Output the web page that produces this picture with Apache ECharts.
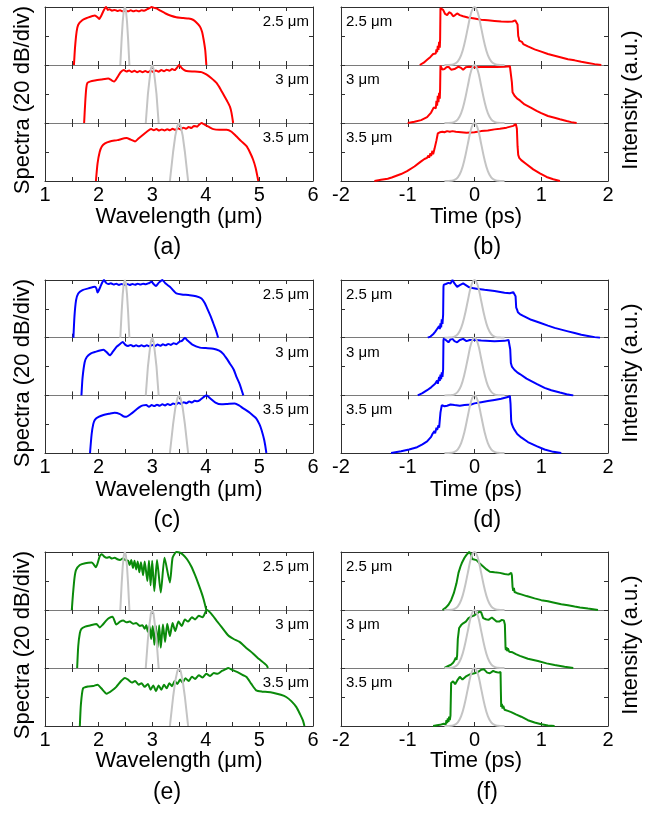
<!DOCTYPE html>
<html><head><meta charset="utf-8">
<script src="https://cdn.jsdelivr.net/npm/echarts@6/dist/echarts.min.js"></script>
<style>html,body{margin:0;padding:0;background:#fff}#c{width:652px;height:817px}</style>
</head><body><div id="c"></div>
<script>
// ---------------- DATA ----------------
const pumpLabels = ['2.5 μm', '3 μm', '3.5 μm'];
const wavelengthTicks = [1, 2, 3, 4, 5, 6];
const timeTicks = [-2, -1, 0, 1, 2];

// pump spectra (gray), dB
const pumpSpec25 = [[2.405,-40],[2.43,-22],[2.45,-10],[2.47,-2.5],[2.49,0],[2.51,-2.5],[2.53,-10],[2.55,-22],[2.575,-40]];
const pumpSpec30 = [[2.88,-40],[2.92,-20],[2.95,-10],[2.975,-2.5],[3.0,0],[3.025,-2.5],[3.05,-10],[3.08,-20],[3.12,-40]];
const pumpSpec35 = [[3.33,-40],[3.39,-20],[3.43,-9],[3.47,-2],[3.5,0],[3.53,-2],[3.57,-9],[3.61,-20],[3.67,-40]];
// pump pulse (gray), intensity
const pumpPulse = [[-0.45,0],[-0.4,0.001],[-0.35,0.004],[-0.3,0.018],[-0.25,0.063],[-0.2,0.17],[-0.15,0.37],[-0.1,0.64],[-0.05,0.9],[0,1],[0.05,0.9],[0.1,0.64],[0.15,0.37],[0.2,0.17],[0.25,0.063],[0.3,0.018],[0.35,0.004],[0.4,0.001],[0.45,0]];

// (a) red spectra
const specA1 = [[1.54,-40],[1.56,-28],[1.59,-17],[1.62,-12.2],[1.7,-9],[1.78,-7.6],[1.93,-5.8],[1.98,-7],[2.01,-8.3],[2.05,-6],[2.1,-2],[2.14,0],[2.17,-2],[2.2,-1.5],[2.25,-2.5],[2.3,-2],[2.35,-2.8],[2.4,-2.2],[2.45,-3],[2.5,-2.5],[2.55,-3],[2.6,-2.3],[2.65,-3],[2.7,-2.4],[2.75,-3],[2.8,-2.2],[2.85,-2.6],[2.9,-1.6],[2.95,-0.8],[2.99,0],[3.04,-0.6],[3.08,-1],[3.15,-2.5],[3.25,-4.5],[3.35,-6],[3.45,-7],[3.58,-7.6],[3.68,-8],[3.76,-8.8],[3.82,-10.5],[3.89,-13.4],[3.93,-17],[3.96,-22.6],[3.99,-30],[4.01,-40]];
const specA2 = [[1.73,-40],[1.75,-26],[1.77,-16],[1.79,-12.4],[1.85,-11.3],[1.93,-10.7],[2.05,-10],[2.18,-9.3],[2.24,-10.5],[2.29,-11.4],[2.35,-8.5],[2.41,-5],[2.47,-3.5],[2.52,-4.5],[2.57,-3.8],[2.62,-4.8],[2.67,-4],[2.72,-5],[2.77,-4.2],[2.82,-5],[2.87,-4.2],[2.92,-5],[2.97,-4],[3.02,-4.8],[3.07,-3.8],[3.12,-4.6],[3.17,-3.5],[3.22,-4.3],[3.27,-3.2],[3.32,-4],[3.37,-2.8],[3.42,-3.5],[3.47,-1.5],[3.5,0],[3.55,-2],[3.6,-3.5],[3.64,-4.2],[3.75,-4.5],[3.85,-4.6],[3.92,-4.9],[4.01,-6.5],[4.1,-9],[4.2,-12.4],[4.28,-17],[4.35,-21.7],[4.4,-25],[4.45,-28.7],[4.48,-33],[4.51,-40]];
const specA3 = [[1.95,-40],[1.98,-28],[2.02,-20],[2.06,-16.2],[2.12,-14],[2.21,-12.7],[2.35,-11.8],[2.52,-10.4],[2.6,-11.5],[2.68,-12.7],[2.75,-10.5],[2.83,-8.1],[2.9,-6],[2.98,-4.2],[3.03,-5],[3.08,-4.2],[3.13,-5.2],[3.18,-4.4],[3.23,-5.2],[3.28,-4.3],[3.33,-5],[3.38,-4],[3.43,-4.8],[3.48,-3.7],[3.53,-4.4],[3.58,-3.2],[3.63,-4],[3.68,-2.8],[3.73,-3.4],[3.78,-2],[3.84,-2.5],[3.88,-1],[3.92,0],[3.97,-1],[4.05,-2.5],[4.14,-4.2],[4.25,-4.7],[4.39,-4.6],[4.48,-6],[4.57,-9.2],[4.66,-12.5],[4.76,-16],[4.82,-20],[4.88,-25],[4.93,-31],[4.98,-40]];

// (b) red pulses
const timeB1 = [[-0.82,0],[-0.76,0.04],[-0.71,0.09],[-0.66,0.14],[-0.62,0.19],[-0.6,0.22],[-0.58,0.2],[-0.57,0.27],[-0.56,0.22],[-0.55,0.33],[-0.54,0.26],[-0.53,0.4],[-0.52,0.3],[-0.515,0.45],[-0.51,0.98],[-0.5,1.0],[-0.47,0.95],[-0.44,0.88],[-0.41,0.86],[-0.38,0.91],[-0.35,0.89],[-0.32,0.84],[-0.29,0.86],[-0.26,0.89],[-0.22,0.86],[-0.17,0.84],[-0.1,0.82],[0,0.8],[0.1,0.78],[0.2,0.77],[0.3,0.76],[0.4,0.75],[0.5,0.745],[0.57,0.75],[0.61,0.77],[0.63,0.78],[0.645,0.7],[0.655,0.5],[0.665,0.46],[0.67,0.42],[0.68,0.44],[0.69,0.39],[0.71,0.4],[0.73,0.36],[0.8,0.32],[0.9,0.27],[1.0,0.23],[1.1,0.19],[1.2,0.16],[1.3,0.13],[1.4,0.1],[1.5,0.08],[1.6,0.055],[1.7,0.035],[1.8,0.015],[1.9,0]];
const timeB2 = [[-1.0,0],[-0.9,0.02],[-0.8,0.05],[-0.71,0.1],[-0.65,0.18],[-0.61,0.27],[-0.59,0.3],[-0.58,0.25],[-0.57,0.38],[-0.56,0.3],[-0.55,0.47],[-0.54,0.36],[-0.53,0.52],[-0.52,0.42],[-0.515,0.6],[-0.51,0.99],[-0.5,1.0],[-0.48,0.92],[-0.45,0.93],[-0.42,0.96],[-0.39,0.97],[-0.35,0.92],[-0.3,0.93],[-0.24,0.97],[-0.2,0.95],[-0.17,0.92],[-0.13,0.96],[-0.08,0.97],[0,0.96],[0.1,0.965],[0.2,0.965],[0.33,0.965],[0.45,0.97],[0.53,0.98],[0.55,0.96],[0.56,0.7],[0.57,0.53],[0.58,0.5],[0.6,0.47],[0.62,0.45],[0.64,0.42],[0.68,0.39],[0.75,0.32],[0.85,0.26],[0.93,0.21],[1.0,0.17],[1.1,0.12],[1.2,0.09],[1.28,0.065],[1.38,0.035],[1.45,0.015],[1.53,0]];
const timeB3 = [[-1.5,0],[-1.4,0.02],[-1.3,0.04],[-1.24,0.06],[-1.1,0.12],[-1.01,0.17],[-0.9,0.25],[-0.81,0.33],[-0.75,0.38],[-0.71,0.4],[-0.69,0.44],[-0.68,0.4],[-0.66,0.48],[-0.65,0.43],[-0.63,0.52],[-0.62,0.46],[-0.6,0.55],[-0.59,0.52],[-0.57,0.7],[-0.55,0.82],[-0.52,0.84],[-0.48,0.85],[-0.45,0.84],[-0.41,0.86],[-0.37,0.85],[-0.33,0.86],[-0.28,0.85],[-0.2,0.84],[-0.12,0.83],[0,0.84],[0.1,0.86],[0.2,0.87],[0.3,0.89],[0.38,0.9],[0.48,0.92],[0.58,0.95],[0.62,0.98],[0.635,0.9],[0.645,0.6],[0.655,0.45],[0.67,0.4],[0.7,0.36],[0.78,0.29],[0.88,0.2],[0.98,0.13],[1.08,0.07],[1.18,0.03],[1.28,0]];

// (c) blue spectra
const specC1 = [[1.53,-40],[1.55,-25],[1.58,-14],[1.62,-9.3],[1.7,-7],[1.81,-5.8],[1.93,-4.7],[1.96,-6],[1.98,-8.7],[2.03,-5],[2.07,-1.5],[2.1,0],[2.14,-2],[2.18,-2.8],[2.23,-2.3],[2.28,-3.2],[2.33,-2.6],[2.38,-3.4],[2.43,-2.7],[2.48,-3.4],[2.53,-2.7],[2.58,-3.4],[2.63,-2.8],[2.68,-3.3],[2.73,-2.6],[2.78,-3.2],[2.83,-2.6],[2.88,-3],[2.93,-2.3],[2.99,-1.2],[3.03,-3],[3.07,-4.2],[3.12,-2],[3.19,0],[3.25,-2.5],[3.33,-4.7],[3.4,-7.5],[3.45,-9.3],[3.55,-10],[3.7,-10.5],[3.82,-11.3],[3.92,-12.8],[3.98,-16],[4.04,-20.9],[4.1,-26],[4.14,-30],[4.19,-35],[4.23,-40]];
const specC2 = [[1.68,-40],[1.7,-28],[1.74,-17],[1.78,-13.4],[1.85,-11],[1.93,-9.9],[2.09,-8.3],[2.15,-10],[2.21,-12.2],[2.27,-9.5],[2.33,-6.5],[2.37,-5.3],[2.45,-3],[2.5,-5],[2.55,-5.8],[2.6,-5],[2.65,-6],[2.7,-5.2],[2.75,-6],[2.8,-5.2],[2.85,-6],[2.9,-5.2],[2.95,-6],[3.0,-5],[3.05,-5.8],[3.1,-4.8],[3.15,-5.6],[3.2,-4.6],[3.25,-5.3],[3.3,-4.3],[3.35,-5],[3.4,-3.8],[3.45,-4.5],[3.5,-3],[3.56,-2],[3.61,0],[3.66,-2],[3.75,-4.8],[3.89,-6.9],[4.0,-7.2],[4.14,-7.6],[4.25,-9],[4.32,-11],[4.4,-15],[4.45,-18],[4.52,-22],[4.57,-27],[4.63,-32],[4.7,-40]];
const specC3 = [[1.84,-40],[1.87,-27],[1.9,-20],[1.93,-17],[2.0,-15],[2.09,-13.7],[2.2,-12.8],[2.3,-12.1],[2.4,-13],[2.46,-14.5],[2.52,-14.9],[2.6,-13],[2.7,-10],[2.77,-8],[2.83,-7],[2.89,-6.8],[2.94,-8],[2.99,-6.8],[3.04,-7.5],[3.09,-6.5],[3.14,-7.3],[3.19,-6.2],[3.24,-7],[3.29,-6],[3.34,-6.8],[3.39,-5.6],[3.44,-6.4],[3.49,-5.2],[3.54,-6],[3.59,-4.8],[3.64,-5.5],[3.69,-4.3],[3.74,-5],[3.79,-3.8],[3.84,-4.2],[3.89,-3.4],[3.95,-1.5],[4.01,0],[4.08,-2],[4.18,-5],[4.29,-6.2],[4.4,-6],[4.54,-5.7],[4.62,-7],[4.7,-9.1],[4.8,-11.5],[4.88,-14],[4.94,-16],[5.0,-20],[5.04,-24],[5.09,-31],[5.13,-40]];

// (d) blue pulses
const timeD1 = [[-0.7,0],[-0.66,0.02],[-0.62,0.06],[-0.59,0.1],[-0.56,0.15],[-0.54,0.12],[-0.53,0.2],[-0.52,0.15],[-0.51,0.25],[-0.5,0.18],[-0.49,0.32],[-0.48,0.24],[-0.47,0.4],[-0.465,0.88],[-0.46,0.92],[-0.43,0.93],[-0.39,0.95],[-0.36,0.94],[-0.33,1.0],[-0.3,0.94],[-0.26,0.88],[-0.22,0.91],[-0.17,0.94],[-0.13,0.91],[-0.09,0.88],[-0.03,0.86],[0.03,0.85],[0.15,0.83],[0.3,0.81],[0.45,0.78],[0.53,0.77],[0.58,0.79],[0.6,0.8],[0.615,0.72],[0.625,0.52],[0.64,0.48],[0.65,0.44],[0.66,0.46],[0.68,0.41],[0.73,0.38],[0.85,0.31],[0.98,0.26],[1.1,0.21],[1.2,0.17],[1.3,0.14],[1.4,0.11],[1.5,0.08],[1.6,0.05],[1.7,0.03],[1.8,0.01],[1.88,0]];
const timeD2 = [[-0.85,0],[-0.78,0.04],[-0.71,0.09],[-0.65,0.14],[-0.59,0.2],[-0.56,0.26],[-0.55,0.2],[-0.53,0.32],[-0.52,0.25],[-0.51,0.36],[-0.5,0.28],[-0.49,0.4],[-0.48,0.32],[-0.47,0.45],[-0.465,0.95],[-0.46,0.99],[-0.43,0.96],[-0.39,0.92],[-0.36,0.97],[-0.33,0.98],[-0.3,0.94],[-0.26,0.92],[-0.22,0.96],[-0.17,0.98],[-0.12,0.94],[-0.07,0.96],[0.0,0.96],[0.1,0.95],[0.3,0.94],[0.45,0.945],[0.51,0.96],[0.53,0.97],[0.535,0.8],[0.545,0.56],[0.56,0.5],[0.57,0.53],[0.58,0.47],[0.6,0.44],[0.64,0.4],[0.68,0.37],[0.78,0.29],[0.93,0.2],[1.05,0.13],[1.15,0.09],[1.28,0.05],[1.38,0.02],[1.48,0]];
const timeD3 = [[-1.25,0],[-1.1,0.03],[-0.98,0.06],[-0.86,0.1],[-0.78,0.15],[-0.71,0.2],[-0.65,0.28],[-0.63,0.33],[-0.62,0.3],[-0.6,0.38],[-0.59,0.34],[-0.57,0.44],[-0.56,0.4],[-0.54,0.48],[-0.53,0.44],[-0.51,0.7],[-0.49,0.83],[-0.45,0.81],[-0.41,0.82],[-0.36,0.84],[-0.3,0.83],[-0.22,0.82],[-0.15,0.83],[-0.05,0.84],[0,0.86],[0.1,0.88],[0.2,0.9],[0.3,0.92],[0.4,0.94],[0.5,0.97],[0.53,0.99],[0.54,0.85],[0.55,0.55],[0.56,0.5],[0.58,0.44],[0.6,0.4],[0.64,0.33],[0.7,0.27],[0.8,0.19],[0.93,0.12],[1.05,0.06],[1.18,0.02],[1.3,0]];

// (e) green spectra
const specE1 = [[1.5,-40],[1.52,-30],[1.55,-18],[1.58,-12.4],[1.65,-9],[1.75,-7.7],[1.87,-7.3],[1.95,-10.5],[2.02,-3],[2.06,-1.5],[2.1,-3],[2.15,-4],[2.2,-3.5],[2.25,-4.5],[2.3,-4],[2.35,-5],[2.4,-5.5],[2.45,-4.5],[2.5,-5.5],[2.55,-6],[2.58,-9],[2.61,-5.5],[2.64,-11],[2.67,-6],[2.7,-12],[2.73,-6.5],[2.76,-14],[2.79,-7],[2.83,-16],[2.86,-6.5],[2.91,-20],[2.94,-6],[2.97,-23],[3.0,-6],[3.04,-27],[3.09,-5.5],[3.16,-28],[3.23,-4],[3.33,-21],[3.38,-4],[3.45,0],[3.52,-0.5],[3.58,-2],[3.65,-5],[3.73,-10],[3.8,-16],[3.86,-21.8],[3.92,-28],[3.96,-32.7],[4.01,-40]];
const specE2 = [[1.6,-40],[1.62,-25],[1.65,-16],[1.68,-13],[1.75,-11.5],[1.84,-10.7],[1.96,-9.6],[2.02,-12],[2.08,-10],[2.15,-7],[2.2,-5.5],[2.26,-4.6],[2.33,-10],[2.4,-8],[2.46,-7.3],[2.52,-8.5],[2.58,-8],[2.65,-9.5],[2.7,-9],[2.77,-11],[2.82,-10.5],[2.86,-13],[2.89,-10.5],[2.92,-15],[2.95,-11],[2.98,-20],[3.01,-11],[3.04,-24],[3.07,-11],[3.1,-26],[3.13,-10.5],[3.16,-26],[3.2,-10],[3.24,-22],[3.28,-9.5],[3.33,-18],[3.38,-9],[3.43,-14.5],[3.49,-8],[3.55,-11],[3.61,-6.5],[3.67,-8],[3.74,-5],[3.8,-6.5],[3.87,-4],[3.94,-5],[4.02,0],[4.1,-2.5],[4.2,-7.3],[4.3,-12],[4.42,-17.6],[4.52,-20],[4.63,-22],[4.75,-26],[4.88,-30],[5.0,-34],[5.13,-38],[5.16,-40]];
const specE3 = [[1.65,-40],[1.67,-25],[1.71,-14],[1.8,-12.7],[1.9,-12.4],[1.98,-11.5],[2.05,-14],[2.15,-17.7],[2.25,-15.5],[2.33,-13],[2.42,-9],[2.49,-6.9],[2.55,-8],[2.62,-10],[2.68,-9],[2.75,-11.5],[2.8,-10.5],[2.86,-13],[2.92,-11],[2.97,-15],[3.02,-12],[3.07,-16],[3.12,-12],[3.17,-15],[3.22,-11.5],[3.27,-14],[3.32,-10.5],[3.37,-12.5],[3.42,-9],[3.47,-11],[3.52,-8],[3.57,-10],[3.62,-7],[3.68,-9],[3.74,-6],[3.8,-7.5],[3.87,-5],[3.94,-6.5],[4.01,-4],[4.08,-5.5],[4.15,-3.5],[4.22,-4],[4.3,-2],[4.36,-1],[4.42,0],[4.5,-1.5],[4.6,-3],[4.7,-5],[4.76,-6.2],[4.85,-11],[4.94,-15.4],[5.05,-16.3],[5.15,-16.5],[5.25,-17],[5.4,-18.5],[5.5,-20],[5.6,-23],[5.69,-27],[5.76,-32],[5.81,-36],[5.84,-40]];

// (f) green pulses
const timeF1 = [[-0.48,0],[-0.43,0.04],[-0.39,0.09],[-0.35,0.17],[-0.31,0.29],[-0.27,0.46],[-0.24,0.64],[-0.21,0.75],[-0.19,0.81],[-0.15,0.9],[-0.12,0.95],[-0.08,1.0],[-0.05,0.96],[-0.035,0.88],[-0.02,0.87],[0.03,0.86],[0.08,0.8],[0.13,0.75],[0.18,0.7],[0.23,0.66],[0.3,0.65],[0.38,0.64],[0.45,0.62],[0.51,0.61],[0.55,0.64],[0.56,0.6],[0.57,0.4],[0.58,0.33],[0.59,0.38],[0.6,0.31],[0.62,0.34],[0.64,0.29],[0.66,0.31],[0.7,0.27],[0.78,0.24],[0.9,0.2],[1.0,0.17],[1.1,0.15],[1.18,0.13],[1.3,0.1],[1.4,0.08],[1.5,0.06],[1.58,0.045],[1.7,0.025],[1.8,0.01],[1.85,0]];
const timeF2 = [[-0.45,0],[-0.4,0.03],[-0.35,0.06],[-0.32,0.09],[-0.3,0.13],[-0.29,0.1],[-0.28,0.18],[-0.27,0.14],[-0.26,0.22],[-0.25,0.5],[-0.23,0.69],[-0.2,0.74],[-0.17,0.77],[-0.13,0.8],[-0.09,0.86],[-0.04,0.89],[0,0.91],[0.04,0.94],[0.07,0.97],[0.1,0.96],[0.13,0.86],[0.17,0.84],[0.21,0.83],[0.26,0.87],[0.3,0.83],[0.33,0.8],[0.37,0.8],[0.41,0.83],[0.44,0.82],[0.455,0.75],[0.465,0.35],[0.47,0.31],[0.48,0.36],[0.49,0.29],[0.5,0.34],[0.52,0.28],[0.54,0.31],[0.57,0.27],[0.62,0.24],[0.68,0.21],[0.8,0.16],[0.95,0.12],[1.08,0.08],[1.2,0.05],[1.35,0.02],[1.48,0]];
const timeF3 = [[-0.62,0],[-0.52,0.02],[-0.46,0.04],[-0.44,0.07],[-0.43,0.03],[-0.42,0.1],[-0.41,0.05],[-0.4,0.13],[-0.39,0.07],[-0.38,0.16],[-0.37,0.1],[-0.36,0.18],[-0.35,0.74],[-0.32,0.77],[-0.29,0.72],[-0.25,0.8],[-0.22,0.85],[-0.18,0.8],[-0.12,0.86],[-0.07,0.89],[0,0.91],[0.05,0.93],[0.1,0.97],[0.14,0.98],[0.19,0.92],[0.23,0.91],[0.28,0.95],[0.32,0.93],[0.36,0.92],[0.39,0.93],[0.395,0.6],[0.4,0.33],[0.41,0.38],[0.42,0.3],[0.43,0.35],[0.45,0.28],[0.47,0.31],[0.5,0.26],[0.55,0.24],[0.62,0.2],[0.7,0.16],[0.8,0.1],[0.9,0.06],[1.0,0.03],[1.1,0.01],[1.2,0]];

// ---------------- LAYOUT ----------------
const FONT = '"Liberation Sans", Arial, Helvetica, sans-serif';
const rows = [
  {tops:[7,65,123], h:58, titleY:217, letterY:248, yTitleY:100},
  {tops:[280,337.7,395.3], h:57.7, titleY:490, letterY:521, yTitleY:373},
  {tops:[552,610,668], h:58, titleY:761, letterY:793, yTitleY:645}
];
const cols = [{left:45, width:268, titleX:179, letterX:167}, {left:341, width:267, titleX:476, letterX:487}];
const panels = [
  {row:0,col:0,kind:'spec',color:'#ff0000',curves:[specA1,specA2,specA3],letter:'(a)'},
  {row:0,col:1,kind:'time',color:'#ff0000',curves:[timeB1,timeB2,timeB3],letter:'(b)'},
  {row:1,col:0,kind:'spec',color:'#0000ff',curves:[specC1,specC2,specC3],letter:'(c)'},
  {row:1,col:1,kind:'time',color:'#0000ff',curves:[timeD1,timeD2,timeD3],letter:'(d)'},
  {row:2,col:0,kind:'spec',color:'#0a8a0a',curves:[specE1,specE2,specE3],letter:'(e)'},
  {row:2,col:1,kind:'time',color:'#0a8a0a',curves:[timeF1,timeF2,timeF3],letter:'(f)'}
];
const pumpSpecs = [pumpSpec25, pumpSpec30, pumpSpec35];

const grids = [], xAxes = [], yAxes = [], series = [], graphics = [];
const DARK = '#303030', DIV = '#7a7a7a';
const isInt = v => Math.abs(v - Math.round(v)) < 1e-9;

panels.forEach(p => {
  const r = rows[p.row], c = cols[p.col];
  const spec = p.kind === 'spec';
  const xr = spec ? {min:wavelengthTicks[0], max:wavelengthTicks[wavelengthTicks.length-1], interval:0.5}
                  : {min:timeTicks[0], max:timeTicks[timeTicks.length-1], interval:1};
  const yr = spec ? {min:-40, max:0, interval:20} : {min:0, max:1, interval:0.5};
  for (let k = 0; k < 3; k++) {
    const gi = grids.length;
    grids.push({left:c.left, top:r.tops[k], width:c.width, height:r.h, containLabel:false, outerBoundsMode:'none'});
    const tick = {show:true, inside:true, length:4, lineStyle:{color:DARK, width:1}};
    const bottomLast = k === 2;
    const xb = xAxes.length;
    xAxes.push(Object.assign({type:'value', gridIndex:gi, position:'bottom', splitLine:{show:false},
      axisLine:{show:true, onZero:false, lineStyle:{color: bottomLast ? DARK : DIV, width:1}},
      axisTick:tick,
      axisLabel:{show:bottomLast, margin:4, fontSize:20, color:'#000', fontFamily:FONT,
        formatter: v => isInt(v) ? String(Math.round(v)) : ''}}, xr));
    xAxes.push(Object.assign({type:'value', gridIndex:gi, position:'top', splitLine:{show:false},
      axisLine:{show:true, onZero:false, lineStyle:{color: k === 0 ? DARK : DIV, width:1}},
      axisTick:tick, axisLabel:{show:false}}, xr));
    const yl = yAxes.length;
    yAxes.push(Object.assign({type:'value', gridIndex:gi, position:'left', splitLine:{show:false},
      axisLine:{show:true, onZero:false, lineStyle:{color:DARK, width:1}}, axisTick:tick, axisLabel:{show:false}}, yr));
    yAxes.push(Object.assign({type:'value', gridIndex:gi, position:'right', splitLine:{show:false},
      axisLine:{show:true, onZero:false, lineStyle:{color:DARK, width:1}}, axisTick:tick, axisLabel:{show:false}}, yr));
    series.push({type:'line', xAxisIndex:xb, yAxisIndex:yl, data:p.curves[k], showSymbol:false, symbol:'none',
      smooth: spec ? 0.2 : false,
      lineStyle:{color:p.color, width:2}, clip:true, z:3});
    series.push({type:'line', xAxisIndex:xb, yAxisIndex:yl, data: spec ? pumpSpecs[k] : pumpPulse, showSymbol:false, symbol:'none',
      smooth: spec ? false : 0.4, lineStyle:{color:'#c4c4c4', width:2}, clip:true, z:4});
    // pump label
    graphics.push({type:'text', x: spec ? c.left + c.width - 4 : c.left + 5, y: r.tops[k] + 15,
      style:{text:pumpLabels[k], font:'15px ' + FONT, fill:'#000', textAlign: spec ? 'right' : 'left', textVerticalAlign:'middle'}, z:10});
  }
  graphics.push({type:'text', x:c.titleX, y:r.titleY,
    style:{text: spec ? 'Wavelength (μm)' : 'Time (ps)', font:'22px ' + FONT, fill:'#000', textAlign:'center', textVerticalAlign:'middle'}});
  graphics.push({type:'text', x:c.letterX, y:r.letterY,
    style:{text:p.letter, font:'23px ' + FONT, fill:'#000', textAlign:'center', textVerticalAlign:'middle'}});
  graphics.push({type:'text', x: spec ? 23 : 631, y:r.yTitleY, rotation:Math.PI/2,
    style:{text: spec ? 'Spectra (20 dB/div)' : 'Intensity (a.u.)', font:'22px ' + FONT, fill:'#000', textAlign:'center', textVerticalAlign:'middle'}});
});

const chart = echarts.init(document.getElementById('c'), null, {renderer:'canvas'});
chart.setOption({
  animation:false,
  backgroundColor:'#fff',
  grid:grids, xAxis:xAxes, yAxis:yAxes, series:series, graphic:graphics
});
</script>
</body></html>
